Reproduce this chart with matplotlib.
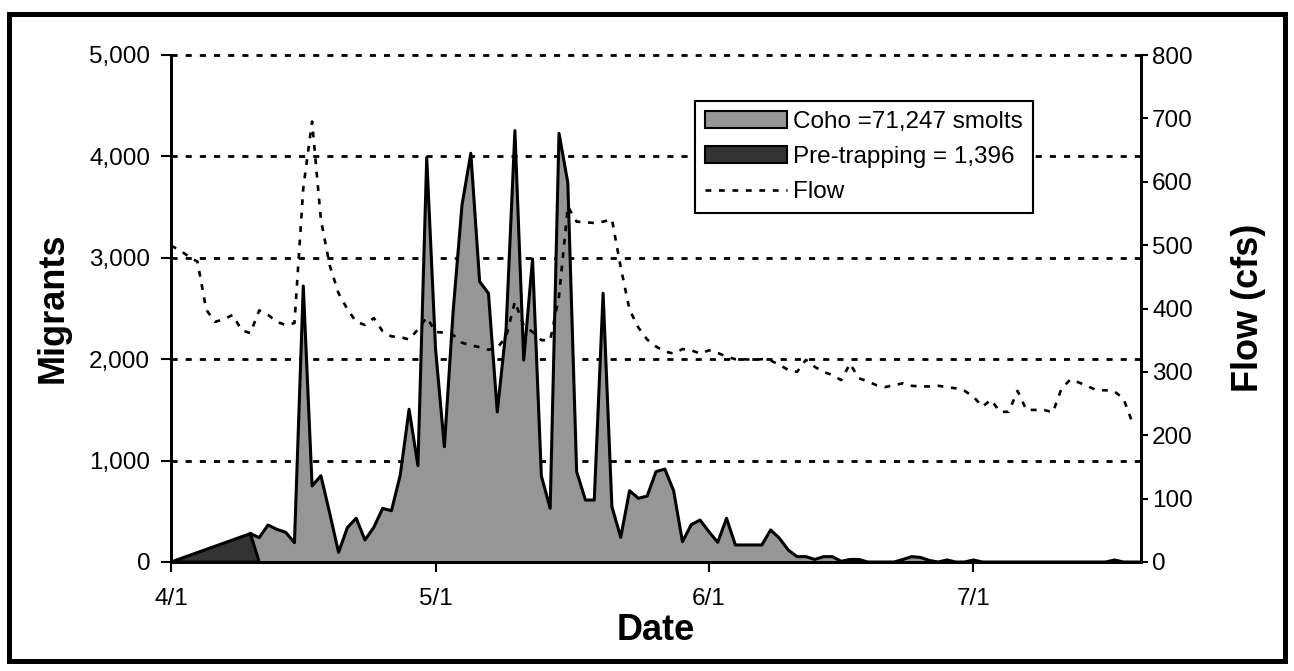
import matplotlib
matplotlib.use('Agg')
import matplotlib.pyplot as plt
import matplotlib.dates as mdates
from matplotlib.patches import Rectangle, Patch
from matplotlib.lines import Line2D
from matplotlib.ticker import FuncFormatter, MultipleLocator
import pandas as pd

plt.rcParams['font.family'] = ['Liberation Sans', 'DejaVu Sans']

# daily coho catch, starting 4/10
coho_start = '2003-04-10'
coho = [280, 240, 365, 322, 293, 191, 2722, 750, 851, 480,
        95, 339, 431, 217, 342, 529, 506, 858, 1506, 950,
        3990, 2100, 1137, 2480, 3521, 4031, 2765, 2650, 1480, 2300,
        4254, 1992, 2988, 848, 530, 4228, 3741, 891, 611, 611,
        2650, 546, 243, 703, 628, 651, 891, 917, 703, 200,
        368, 414, 299, 194, 431, 168, 168, 168, 168, 316,
        234, 118, 53, 53, 25, 53, 53, 7, 25, 25,
        0, 0, 0, 0, 25, 53, 45, 15, 0, 20,
        0, 0, 20, 0, 0, 0, 0, 0, 0, 0,
        0, 0, 0, 0, 0, 0, 0, 0, 20, 0,
        0, 0]

# pre-trapping estimate
pre_dates = ['2003-04-01', '2003-04-10', '2003-04-11']
pre_vals = [0, 280, 0]

# daily flow (cfs), starting 4/1
flow_start = '2003-04-01'
flow = [499, 492, 482, 474, 398, 379, 383, 390, 366, 361,
        397, 390, 379, 374, 377, 590, 695, 540, 468, 424,
        399, 379, 374, 385, 364, 356, 355, 351, 367, 386,
        363, 362, 358, 346, 342, 339, 335, 338, 355, 411,
        373, 363, 350, 350, 419, 561, 537, 536, 535, 537,
        541, 465, 398, 370, 351, 340, 332, 329, 336, 334,
        329, 334, 330, 324, 320, 320, 319, 320, 318, 311,
        303, 300, 319, 308, 300, 295, 287, 313, 290, 285,
        279, 276, 279, 282, 278, 277, 277, 278, 276, 274,
        270, 261, 245, 256, 237, 237, 270, 240, 240, 240,
        236, 274, 288, 283, 277, 271, 271, 269, 258, 221]

labels = ['Coho =71,247 smolts', 'Pre-trapping = 1,396', 'Flow']

coho_dates = pd.date_range(coho_start, periods=len(coho))
flow_dates = pd.date_range(flow_start, periods=len(flow))
pre_dates = pd.to_datetime(pre_dates)

W, H = 1294, 671
fig = plt.figure(figsize=(W / 100, H / 100), dpi=100)
ax = fig.add_axes([171 / W, 1 - 562 / H, 970 / W, 507 / H])
ax2 = ax.twinx()

dash = (0, (2.2, 2.9))
for v in [1000, 2000, 3000, 4000, 5000]:
    ax.axhline(v, color='black', lw=2, ls=dash, zorder=0.5, clip_on=False)

ax.fill_between(coho_dates, coho, 0, facecolor='#969696', edgecolor='none', zorder=1)
ax.plot(coho_dates, coho, color='black', lw=2.2, zorder=2)
ax.fill(pre_dates, pre_vals, facecolor='#333333', edgecolor='black', lw=2.2, zorder=3)

ax2.plot(flow_dates, flow, color='black', lw=1.9, ls=dash)

ax.set_xlim(pd.Timestamp('2003-04-01'), pd.Timestamp('2003-07-20'))
ax.set_ylim(0, 5000)
ax2.set_ylim(0, 800)

ax.xaxis.set_major_locator(mdates.MonthLocator())
ax.xaxis.set_major_formatter(mdates.DateFormatter('%-m/%-d'))
ax.yaxis.set_major_locator(MultipleLocator(1000))
ax.yaxis.set_major_formatter(FuncFormatter(lambda v, _: f'{int(v):,}'))
ax2.yaxis.set_major_locator(MultipleLocator(100))

for a in (ax, ax2):
    a.spines['top'].set_visible(False)
    for s in ('left', 'right', 'bottom'):
        a.spines[s].set_linewidth(2)
ax.tick_params(axis='y', direction='out', length=7, width=1.5, labelsize=17.5, pad=8)
ax.tick_params(axis='x', direction='out', length=7, width=1.5, labelsize=17.5, pad=12)
ax2.tick_params(axis='y', direction='out', length=5, width=1.5, labelsize=17.5, pad=3)

fig.text(53 / W, 1 - 308 / H, 'Migrants', rotation=90, ha='center', va='center',
         fontsize=26, fontweight='bold')
fig.text(1248 / W, 1 - 308 / H, 'Flow (cfs)', rotation=90, ha='center', va='center',
         fontsize=26, fontweight='bold')
fig.text(656 / W, 1 - 630 / H, 'Date', ha='center', va='center',
         fontsize=26, fontweight='bold')

handles = [Patch(facecolor='#969696', edgecolor='black', lw=1.5),
           Patch(facecolor='#333333', edgecolor='black', lw=1.5),
           Line2D([], [], color='black', lw=1.9, ls=dash)]
leg = ax2.legend(handles, labels, loc='upper left',
                 bbox_to_anchor=(695 / W, 1 - 101 / H), bbox_transform=fig.transFigure,
                 borderaxespad=0, fontsize=17.5, handlelength=3.4, handletextpad=0.25,
                 labelspacing=0.54, borderpad=0.4, fancybox=False, framealpha=1)
leg.get_frame().set_edgecolor('black')
leg.get_frame().set_linewidth(1.5)

fig.add_artist(Rectangle((9 / W, 10 / H), 1276 / W, 647 / H, transform=fig.transFigure,
                         fill=False, lw=3.6, edgecolor='black'))

fig.savefig('out.png', dpi=100)
